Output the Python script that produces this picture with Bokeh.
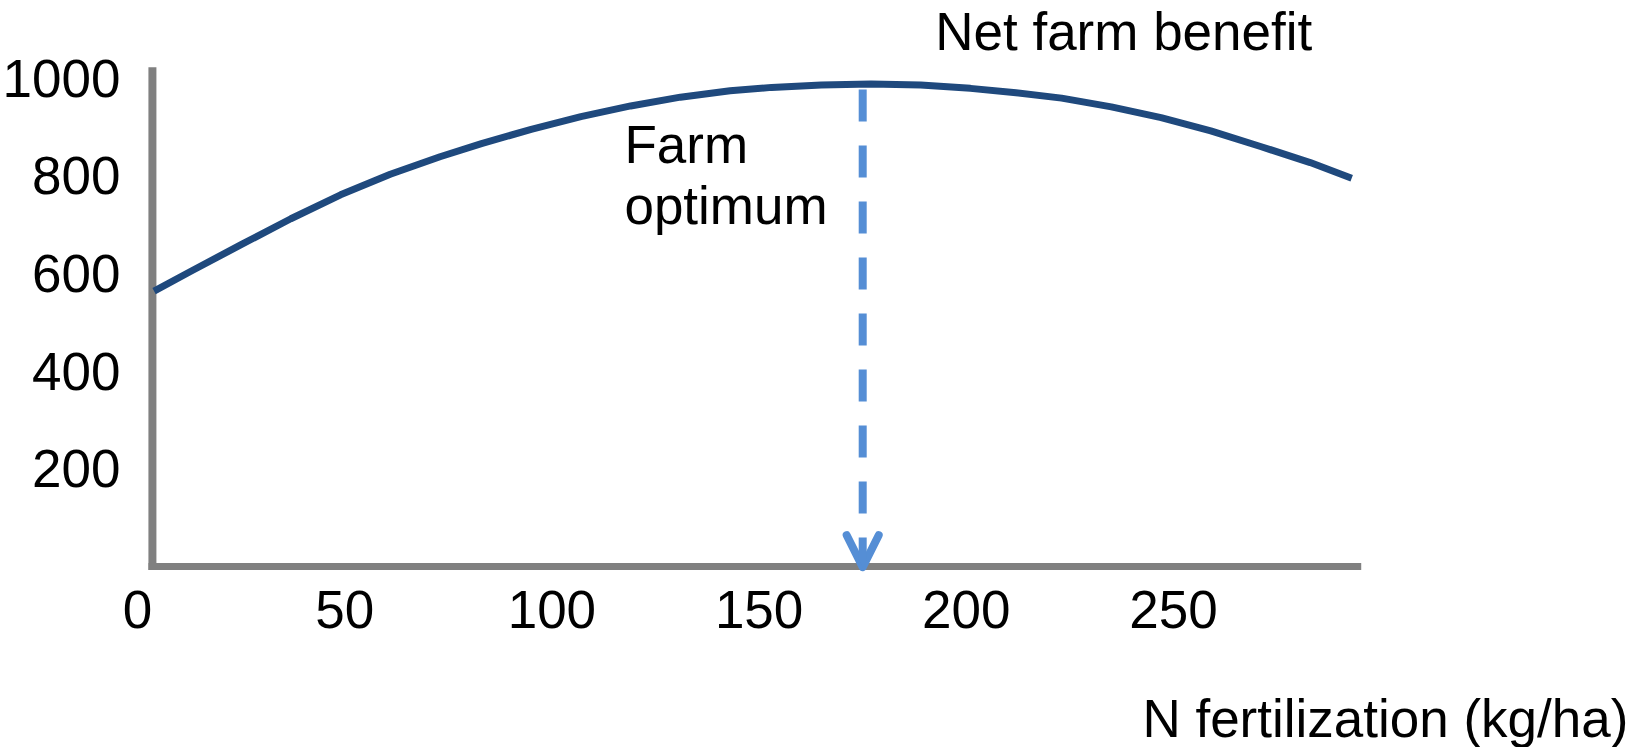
from bokeh.plotting import figure
from bokeh.models import Arrow, OpenHead, FixedTicker, LinearAxis
from bokeh.core.properties import value
from bokeh.embed import file_html
from bokeh.resources import INLINE

# ---- data ----
n_rate = [4, 13, 25, 37, 49, 61, 73, 83, 95, 107, 119, 131, 143, 153, 165,
          177, 189, 201, 212, 223, 235, 247, 259, 271, 283, 293]
net_benefit = [564, 605, 659, 712, 761, 803, 839, 866, 895, 921, 943, 961, 974,
               981, 986, 988, 986, 979, 970, 959, 941, 919, 892, 860, 827, 795]
x_ticks = [0, 50, 100, 150, 200, 250]
y_ticks = [200, 400, 600, 800, 1000]
optimum_n = 175
curve_label = "Net farm benefit"
optimum_label = ["Farm", "optimum"]
x_title = "N fertilization (kg/ha)"

FONT = "Liberation Sans"
FS = "53px"

p = figure(width=1645, height=747, output_backend="svg", toolbar_location=None,
           x_range=(-33.06, 363.9), y_range=(-370.6, 1158.9),
           x_axis_location=None, y_axis_location=None,
           min_border_left=0, min_border_right=0, min_border_top=0,
           min_border_bottom=0)
p.background_fill_color = "white"
p.border_fill_color = "white"
p.outline_line_color = None
p.grid.visible = False

xaxis = LinearAxis(fixed_location=0, ticker=FixedTicker(ticks=x_ticks))
yaxis = LinearAxis(fixed_location=0, ticker=FixedTicker(ticks=y_ticks))
for ax in (xaxis, yaxis):
    ax.axis_line_color = None
    ax.major_tick_line_color = None
    ax.minor_tick_line_color = None
    ax.major_tick_out = 0
    ax.major_tick_in = 0
    ax.major_label_text_font = FONT
    ax.major_label_text_font_size = FS
    ax.major_label_text_color = "black"
xaxis.major_label_standoff = 24
yaxis.major_label_standoff = 17
p.add_layout(xaxis, "below")
p.add_layout(yaxis, "left")

# drawn axis lines (gray L)
x0, x1 = 3.6, 295.3
p.segment(x0=[x0], y0=[-7.4], x1=[x0], y1=[1022], line_color="#808080", line_width=8)
p.segment(x0=[2.65], y0=[0], x1=[x1], y1=[0], line_color="#808080", line_width=7)

# curve
p.line(n_rate, net_benefit, line_color="#1F497D", line_width=7, line_join="round")

# dashed arrow at optimum
p.add_layout(Arrow(end=OpenHead(size=32, line_color="#558ED5", line_width=8,
                                line_join="round", line_cap="round"),
                   x_start=optimum_n, y_start=976.7, x_end=optimum_n, y_end=-1.4,
                   line_color="#558ED5", line_width=8, line_dash="32 24"))

# texts
p.text(x=[192.5], y=[1095], text=[curve_label], text_font=value(FONT),
       text_font_size=FS, text_color="black", text_baseline="alphabetic")
p.text(x=[117.5, 117.5], y=[865, 739], text=optimum_label, text_font=value(FONT),
       text_font_size=FS, text_color="black", text_baseline="alphabetic")
p.text(x=[242.5], y=[-311], text=[x_title], text_font=value(FONT),
       text_font_size=FS, text_color="black", text_baseline="alphabetic")

open("out.html", "w").write(file_html(p, INLINE))
